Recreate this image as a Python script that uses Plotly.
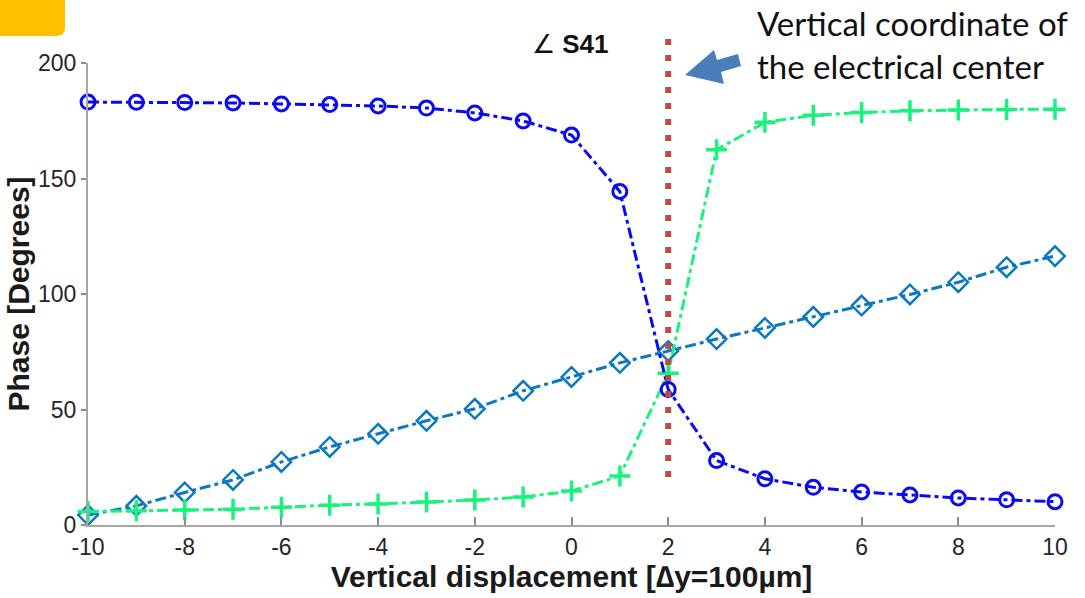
import plotly.graph_objects as go

# Vertical displacement steps (units of Δy = 100 µm)
displacement = [-10, -9, -8, -7, -6, -5, -4, -3, -2, -1, 0,
                1, 2, 3, 4, 5, 6, 7, 8, 9, 10]

# Phase of S41 for the three measured configurations [degrees]
phase_circle = [183.1, 183.0, 182.9, 182.7, 182.3, 182.0, 181.4, 180.5, 178.4, 174.9, 168.8,
                144.4, 58.7, 27.9, 20.0, 16.3, 14.3, 13.0, 11.7, 10.9, 10.1]
phase_plus = [5.8, 6.2, 6.5, 6.8, 7.7, 8.6, 9.1, 10.0, 10.8, 12.1, 14.7,
              21.2, 65.7, 162.4, 174.3, 177.4, 178.6, 179.3, 179.7, 179.9, 180.0]
phase_diamond = [4.3, 8.3, 14.1, 19.5, 27.3, 33.8, 39.5, 45.1, 50.3, 58.1, 64.1,
                 70.2, 75.3, 80.5, 85.3, 90.1, 95.0, 99.8, 105.1, 111.6, 116.4]

x_ticks = [-10, -8, -6, -4, -2, 0, 2, 4, 6, 8, 10]
x_tick_labels = ["-10", "-8", "-6", "-4", "-2", "0", "2", "4", "6", "8", "10"]
y_ticks = [0, 50, 100, 150, 200]
y_tick_labels = ["0", "50", "100", "150", "200"]

center_x = 2  # vertical coordinate of the electrical center

W, H = 1085, 598
ML, MR, MT, MB = 88, 30, 63, 73
PW, PH = W - ML - MR, H - MT - MB


def px(x):
    return (x - ML) / PW


def py(y):
    return (H - MB - y) / PH


DASH = "11px,4px,4px,4px"

fig = go.Figure()

fig.add_trace(go.Scatter(
    x=displacement, y=phase_diamond, mode="lines+markers",
    line=dict(color="#0B78C0", width=3, dash=DASH),
    marker=dict(symbol="diamond-open", size=15, color="#0B78C0",
                line=dict(width=2.5, color="#0B78C0")),
    cliponaxis=False, showlegend=False))

fig.add_trace(go.Scatter(
    x=displacement, y=phase_plus, mode="lines+markers",
    line=dict(color="#19F27C", width=3, dash=DASH),
    marker=dict(symbol="cross-thin-open", size=15, color="#19F27C",
                line=dict(width=3.5, color="#19F27C")),
    cliponaxis=False, showlegend=False))

fig.add_trace(go.Scatter(
    x=displacement, y=phase_circle, mode="lines+markers",
    line=dict(color="#0A0AF0", width=3, dash=DASH),
    marker=dict(symbol="circle-open", size=14, color="#0A0AF0",
                line=dict(width=3, color="#0A0AF0")),
    cliponaxis=False, showlegend=False))

shapes = []

# dotted marker of the electrical center
shapes.append(dict(
    type="line", xref="x", yref="paper",
    x0=center_x, x1=center_x, y0=py(39), y1=py(480),
    line=dict(color="#BE4B48", width=6, dash="6px,10px"), layer="above"))

# callout arrow pointing to the dotted line
arrow_pts = [(685, 75), (714, 50), (717, 60), (738, 54), (741, 66),
             (721, 72), (724, 84)]
arrow_path = "M " + " L ".join(f"{px(a):.5f},{py(b):.5f}" for a, b in arrow_pts) + " Z"
shapes.append(dict(type="path", xref="paper", yref="paper", path=arrow_path,
                   fillcolor="#4A7EBB", line=dict(width=0), layer="above"))

# yellow tab in the upper left corner
r = 9
tab_path = (f"M {px(0):.5f},{py(0):.5f} L {px(65):.5f},{py(0):.5f} "
            f"L {px(65):.5f},{py(36 - r):.5f} "
            f"Q {px(65):.5f},{py(36):.5f} {px(65 - r):.5f},{py(36):.5f} "
            f"L {px(0):.5f},{py(36):.5f} Z")
shapes.append(dict(type="path", xref="paper", yref="paper", path=tab_path,
                   fillcolor="#FFC000", line=dict(width=0), layer="above"))

annotations = [
    dict(text="∠ <b>S41</b>", xref="paper", yref="paper",
         x=px(570), y=py(44), xanchor="center", yanchor="middle", showarrow=False,
         font=dict(family="Liberation Sans", size=26, color="#111111")),
    dict(text="Vertical coordinate of<br>the electrical center",
         xref="paper", yref="paper", x=px(755), y=py(44),
         xanchor="left", yanchor="middle", align="left", showarrow=False,
         font=dict(family="Lato", size=33, color="#111111")),
]

axis_common = dict(
    showline=True, linecolor="#A6A6A6", linewidth=2,
    showgrid=False, zeroline=False,
    tickcolor="#8C8C8C", tickwidth=1.5,
    tickfont=dict(family="Liberation Sans", size=23, color="#262626"),
)

fig.update_layout(
    width=W, height=H,
    margin=dict(l=ML, r=MR, t=MT, b=MB),
    paper_bgcolor="white", plot_bgcolor="white",
    shapes=shapes, annotations=annotations,
    xaxis=dict(range=[-10, 10], tickvals=x_ticks, ticktext=x_tick_labels,
               ticks="inside", ticklen=8,
               title=dict(text="Vertical displacement [∆y=100µm]", standoff=4,
                          font=dict(family="Liberation Sans", size=30,
                                    color="#1A1A1A", weight="bold")),
               **axis_common),
    yaxis=dict(range=[0, 200], tickvals=y_ticks, ticktext=y_tick_labels,
               ticks="outside", ticklen=5,
               title=dict(text="Phase [Degrees]", standoff=0,
                          font=dict(family="Liberation Sans", size=30,
                                    color="#1A1A1A", weight="bold")),
               **axis_common),
)

fig.write_html("out.html")
